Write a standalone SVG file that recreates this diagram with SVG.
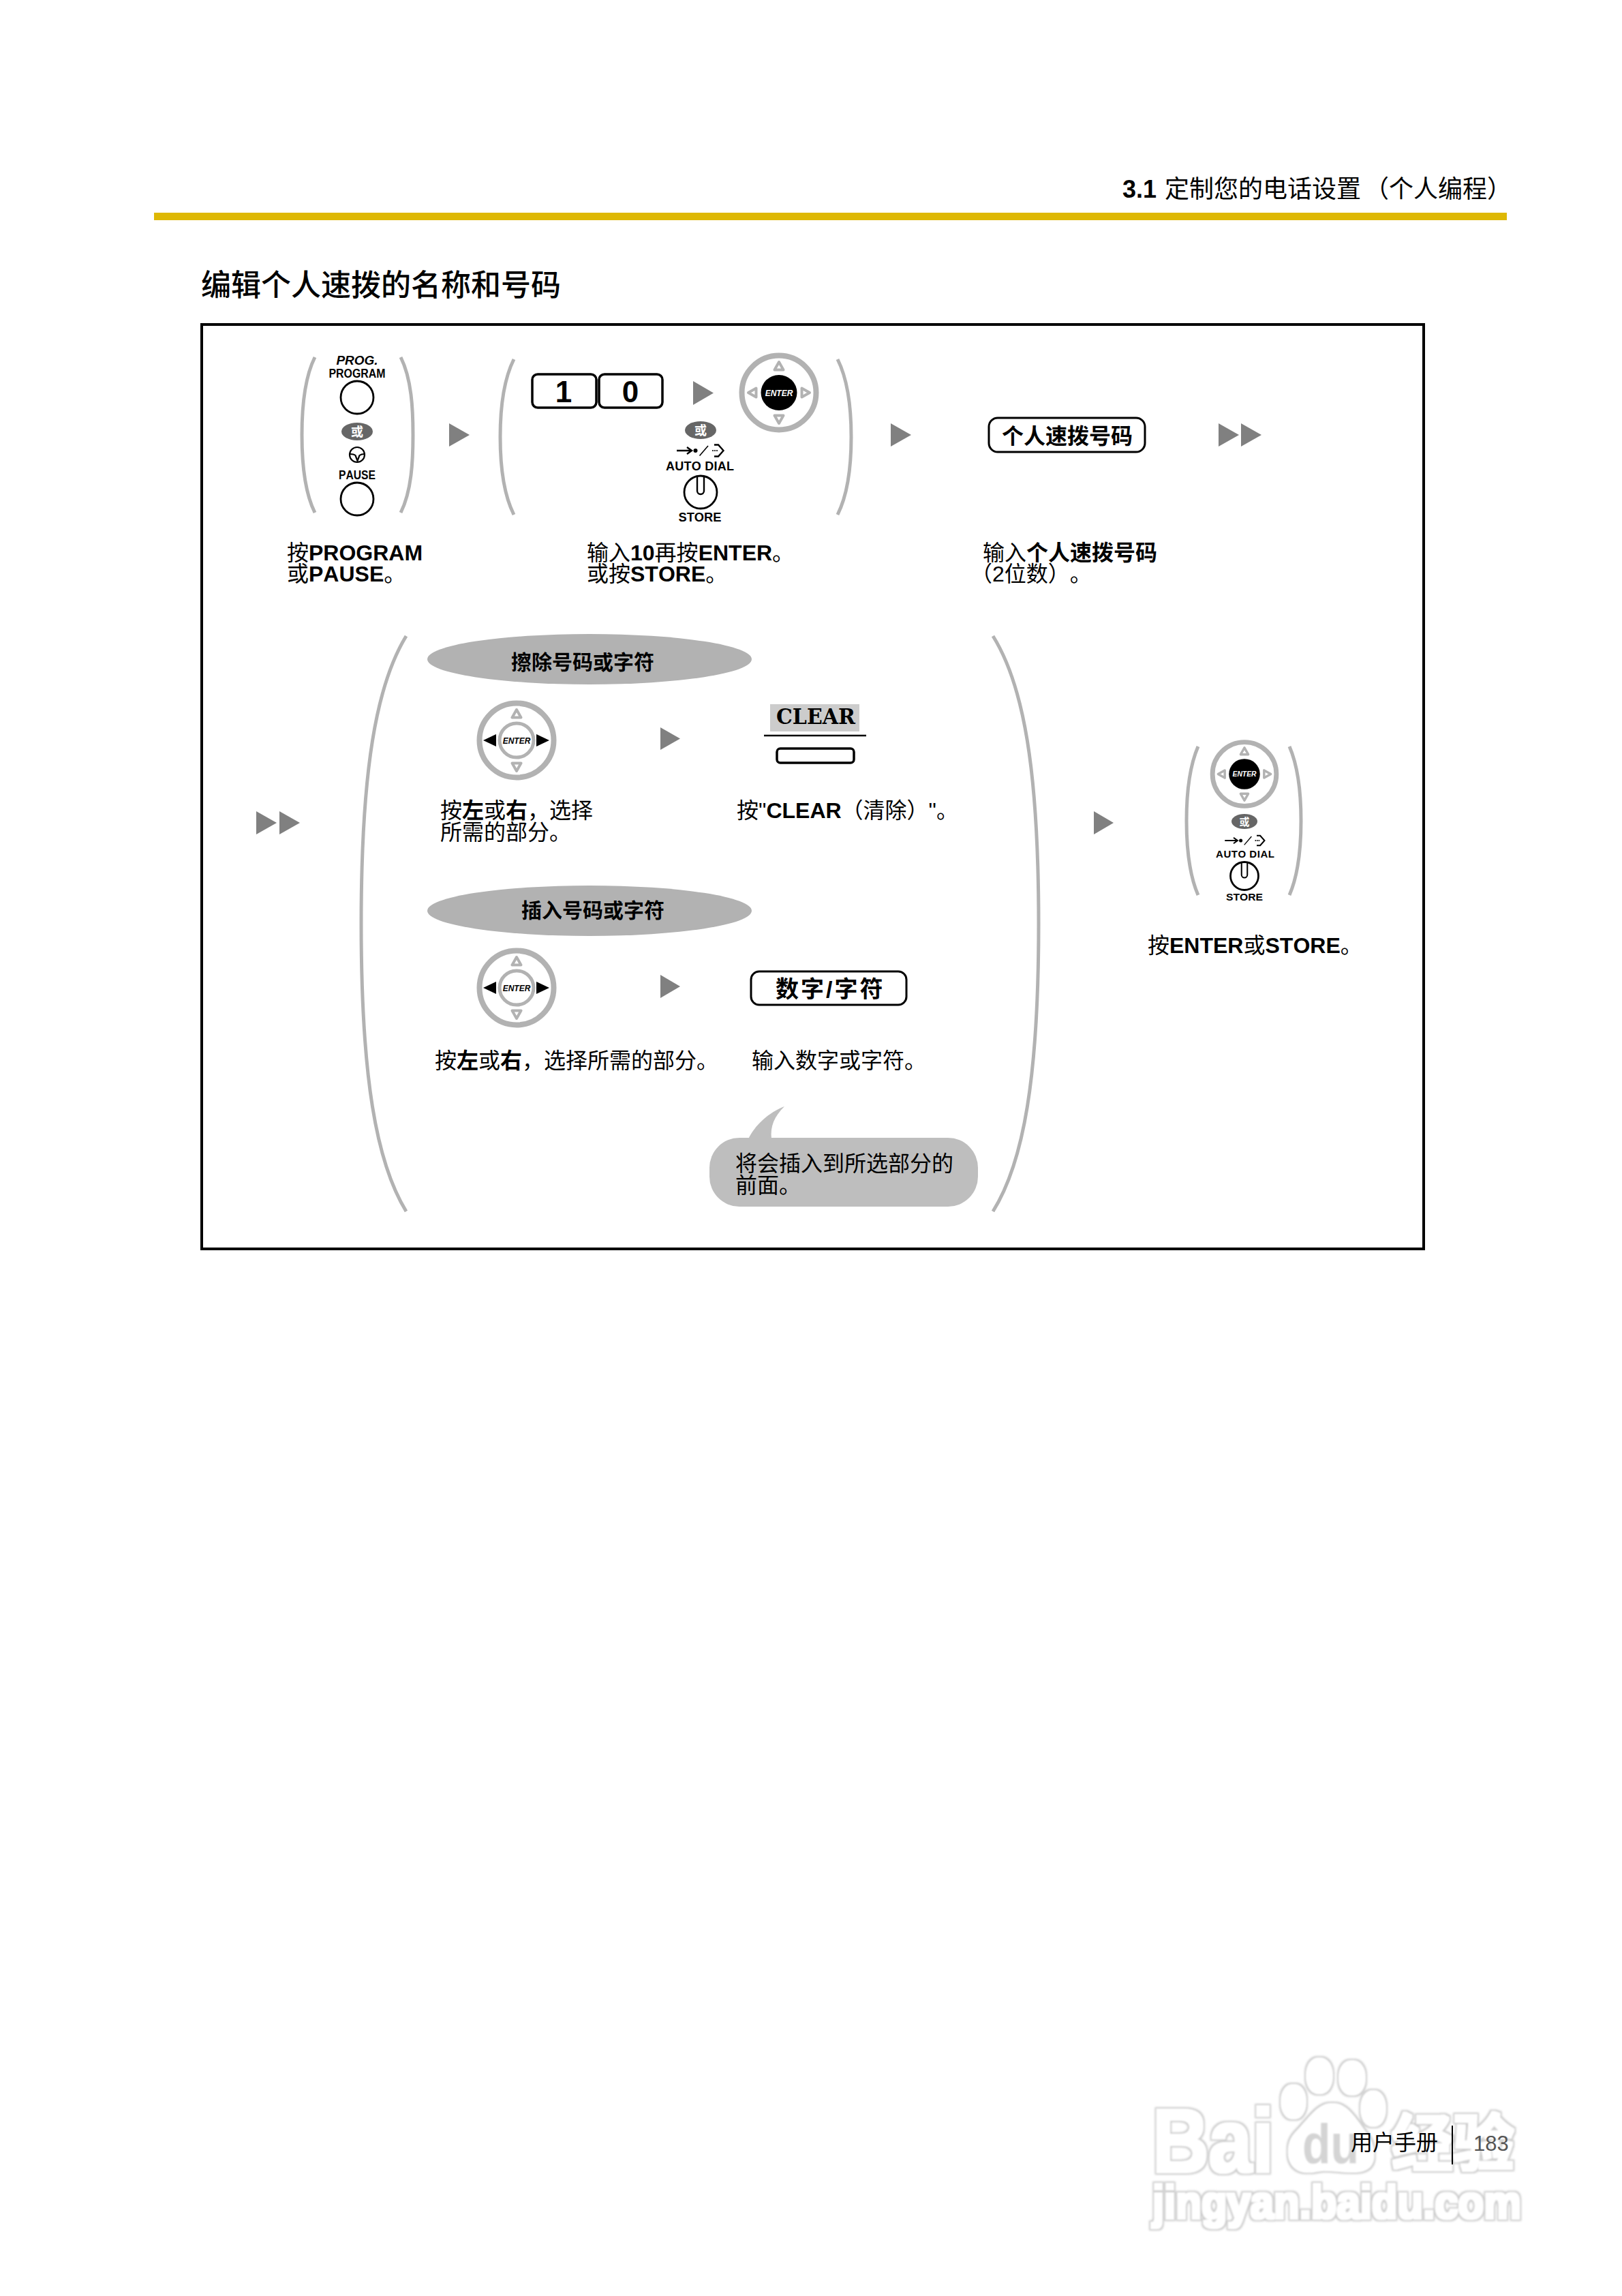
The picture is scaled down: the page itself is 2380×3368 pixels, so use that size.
<svg xmlns="http://www.w3.org/2000/svg" xmlns:xlink="http://www.w3.org/1999/xlink" width="2380" height="3368" viewBox="0 0 2380 3368">
<style>
text{font-family:"Liberation Sans","Noto Sans CJK SC",sans-serif;fill:#000;text-spacing-trim:space-all;font-kerning:none}
.t{font-size:32px}
.b{font-weight:700}
.c{text-anchor:middle}
.lbl{font-size:18px;font-weight:700;text-anchor:middle}
.lbs{font-size:15px;font-weight:700;text-anchor:middle}
.brk{fill:none;stroke:#b2b2b2;stroke-width:5}
.ring{fill:#fff;stroke:#b2b2b2;stroke-width:8}
.out{fill:#fff;stroke:#b2b2b2;stroke-width:4;stroke-linejoin:round}
.btn{fill:#fff;stroke:#000;stroke-width:2.8}
.key{fill:#fff;stroke:#000;stroke-width:3.5}
.line{fill:none;stroke:#000;stroke-width:2.4}
.arr{fill:#808080}
.or{fill:#666}
.ort{font-weight:700;text-anchor:middle}
text.ort{fill:#fff}
text.wt{fill:#fff}
.wm{fill:#fff;font-weight:700}
</style>
<defs>
<filter id="soft" filterUnits="userSpaceOnUse" x="1660" y="2990" width="600" height="300">
<feMorphology in="SourceAlpha" operator="dilate" radius="4" result="o"/>
<feGaussianBlur in="o" stdDeviation="1.5" result="ob"/>
<feFlood flood-color="#cdcdcd"/>
<feComposite in2="ob" operator="in" result="g"/>
<feMorphology in="SourceAlpha" operator="dilate" radius="1.5" result="i"/>
<feGaussianBlur in="i" stdDeviation="1" result="ib"/>
<feFlood flood-color="#ffffff"/>
<feComposite in2="ib" operator="in" result="w"/>
<feMerge><feMergeNode in="g"/><feMergeNode in="w"/></feMerge>
</filter>
<filter id="softer" filterUnits="userSpaceOnUse" x="1880" y="3080" width="150" height="120"><feGaussianBlur stdDeviation="1"/></filter>
<polygon id="nav-up" class="out" points="0,-45 -6.500,-33.500 6.500,-33.500"/>
<g id="wheel-black">
<circle class="ring" cx="0" cy="0" r="54.500"/>
<use xlink:href="#nav-up"/>
<use xlink:href="#nav-up" transform="rotate(90)"/>
<use xlink:href="#nav-up" transform="rotate(180)"/>
<use xlink:href="#nav-up" transform="rotate(270)"/>
<ellipse cx="0" cy="0" rx="26.500" ry="26" fill="#000"/>
<text x="0" y="4.500" class="c b wt" font-size="12" font-style="italic">ENTER</text>
</g>
<g id="wheel-gray">
<circle class="ring" cx="0" cy="0" r="54.500"/>
<use xlink:href="#nav-up"/>
<use xlink:href="#nav-up" transform="rotate(180)"/>
<polygon points="-49,0 -30,-9 -30,9" fill="#000"/>
<polygon points="48,0 29,-9 29,9" fill="#000"/>
<circle cx="0" cy="0" r="25" fill="#fff" stroke="#b2b2b2" stroke-width="5"/>
<text x="0" y="4.500" class="c" font-size="12" font-style="italic" font-weight="700">ENTER</text>
</g>
<g id="dial-icon">
<path class="line" d="M-35 0H-14M-20 -5L-13 0L-20 5"/>
<circle cx="-7.500" cy="0" r="3" fill="#000"/>
<path class="line" d="M-1.500 7.500L11 -7" style="stroke-width:1.6"/>
<circle cx="18" cy="0" r="1.100" fill="#000"/><circle cx="21" cy="0" r="1.100" fill="#000"/><circle cx="24" cy="0" r="1.100" fill="#000"/>
<path class="line" d="M20 -8.500H26L33.500 0L26 8.500H20"/>
</g>
<path id="store-mark" class="line" d="M-5 -23V-2A5 5 0 0 0 5 -2V-23"/>
</defs>

<g id="watermark">
<g filter="url(#soft)">
<text x="1691" y="3186" class="wm" font-size="132" textLength="178" lengthAdjust="spacingAndGlyphs">Bai</text>
<ellipse class="wm" cx="1898" cy="3083" rx="17" ry="24"/>
<ellipse class="wm" cx="1936" cy="3045" rx="18" ry="25"/>
<ellipse class="wm" cx="1984" cy="3048" rx="18" ry="24"/>
<ellipse class="wm" cx="2015" cy="3093" rx="17" ry="25"/>
<path class="wm" d="M1955 3087C1975 3087 1988 3110 2003 3130C2020 3152 2022 3185 1985 3185C1965 3185 1945 3180 1925 3185C1892 3189 1882 3152 1902 3130C1922 3110 1935 3087 1955 3087Z"/>
<text x="2042" y="3176" class="wm" font-size="90" textLength="180" lengthAdjust="spacingAndGlyphs">经验</text>
<text x="1691" y="3254" class="wm" font-size="68" textLength="541" lengthAdjust="spacingAndGlyphs">jingyan.baidu.com</text>
</g>
<text x="1911" y="3173" font-size="82" font-weight="700" textLength="83" lengthAdjust="spacingAndGlyphs" filter="url(#softer)" style="fill:#d4d4d4">du</text>
</g>

<g id="header">
<rect x="226" y="312" width="1985" height="11" fill="#deb805"/>
<text y="290" font-size="36"><tspan x="1647" class="b">3.1</tspan><tspan x="1709">定制您的电话设置</tspan><tspan x="2002">（个人编程）</tspan></text>
<text x="295" y="434" font-size="44" font-weight="500">编辑个人速拨的名称和号码</text>
</g>

<g id="frame"><rect x="296" y="476" width="1793" height="1356" fill="none" stroke="#000" stroke-width="4"/></g>

<g id="node-program">
<path class="brk" d="M462 524C446 556 443 600 443 638C443 676 446 720 462 752"/>
<path class="brk" d="M588 524C604 556 606 600 606 638C606 676 604 720 588 752"/>
<text x="524" y="535" class="c b" font-size="19" font-style="italic">PROG.</text>
<text x="524" y="554" class="lbl" textLength="83" lengthAdjust="spacingAndGlyphs">PROGRAM</text>
<circle class="btn" cx="524" cy="583" r="24"/>
<ellipse class="or" cx="524" cy="633" rx="23" ry="13"/>
<text x="524" y="640" class="ort" font-size="18">或</text>
<circle cx="524" cy="667" r="11" fill="none" stroke="#000" stroke-width="2.200"/>
<path d="M513.500 666Q519 666 521.500 668L524.500 676L527.500 668Q530 666 535 666" fill="none" stroke="#000" stroke-width="2.200"/>
<text x="524" y="703" class="lbl" textLength="54" lengthAdjust="spacingAndGlyphs">PAUSE</text>
<circle class="btn" cx="524" cy="732" r="24"/>
<text class="t" y="822"><tspan x="421">按</tspan><tspan class="b">PROGRAM</tspan></text>
<text class="t" y="853"><tspan x="421">或</tspan><tspan class="b">PAUSE</tspan>。</text>
</g>

<g id="node-ten-enter">
<path class="brk" d="M754 527C738 559 734 603 734 641C734 679 738 723 754 755"/>
<path class="brk" d="M1229 527C1245 559 1249 603 1249 641C1249 679 1245 723 1229 755"/>
<rect class="key" x="781" y="549" width="94" height="49" rx="8"/>
<rect class="key" x="879" y="549" width="93" height="49" rx="8"/>
<text x="827" y="590" class="c b" font-size="44">1</text>
<text x="925" y="590" class="c b" font-size="44">0</text>
<use xlink:href="#wheel-black" x="1143" y="576"/>
<ellipse class="or" cx="1028" cy="631" rx="23" ry="13"/>
<text x="1028" y="638" class="ort" font-size="18">或</text>
<use xlink:href="#dial-icon" x="1028" y="661"/>
<text x="1027" y="690" class="lbl" textLength="100" lengthAdjust="spacing">AUTO DIAL</text>
<circle class="btn" cx="1028" cy="722" r="24"/>
<use xlink:href="#store-mark" x="1028" y="722"/>
<text x="1027" y="765" class="lbl" textLength="63" lengthAdjust="spacingAndGlyphs">STORE</text>
<text class="t" y="822"><tspan x="861">输入</tspan><tspan class="b">10</tspan>再按<tspan class="b">ENTER</tspan>。</text>
<text class="t" y="853"><tspan x="861">或按</tspan><tspan class="b">STORE</tspan>。</text>
</g>

<g id="node-speed-dial">
<rect class="key" x="1451" y="613" width="229" height="50" rx="13" style="stroke-width:3"/>
<text x="1470" y="651" class="t b">个人速拨号码</text>
<text class="t" y="822"><tspan x="1442">输入</tspan><tspan class="b">个人速拨号码</tspan></text>
<text x="1424" y="853" class="t">（2位数）。</text>
</g>

<g id="node-options">
<path class="brk" d="M596 933C552 1005 530 1130 530 1355C530 1580 552 1705 596 1777"/>
<path class="brk" d="M1457 933C1502 1005 1524 1130 1524 1355C1524 1580 1502 1705 1457 1777"/>
</g>

<g id="node-erase">
<ellipse cx="865" cy="967" rx="238" ry="37" fill="#b2b2b2"/>
<text x="750" y="982" font-size="30" class="b">擦除号码或字符</text>
<use xlink:href="#wheel-gray" x="758" y="1086"/>
<text class="t" y="1200"><tspan x="646">按</tspan><tspan class="b">左</tspan>或<tspan class="b">右</tspan>，选择</text>
<text x="646" y="1232" class="t">所需的部分。</text>
<rect x="1130" y="1033" width="131" height="40" fill="#cccccc"/>
<text x="1139" y="1062" font-size="31" font-weight="700" style="font-family:'DejaVu Serif',serif" textLength="116" lengthAdjust="spacingAndGlyphs">CLEAR</text>
<path d="M1121 1079H1271" stroke="#000" stroke-width="2.500"/>
<rect class="key" x="1140" y="1098" width="113" height="21" rx="5"/>
<text class="t" y="1200"><tspan x="1081">按"</tspan><tspan class="b">CLEAR</tspan>（清除）"。</text>
</g>

<g id="node-insert">
<ellipse cx="865" cy="1336" rx="238" ry="37" fill="#b2b2b2"/>
<text x="765" y="1346" font-size="30" class="b">插入号码或字符</text>
<use xlink:href="#wheel-gray" x="758" y="1449"/>
<text class="t" y="1567"><tspan x="638">按</tspan><tspan class="b">左</tspan>或<tspan class="b">右</tspan>，选择所需的部分。</text>
<rect class="key" x="1102" y="1425" width="228" height="49" rx="12" style="stroke-width:3"/>
<text x="1138" y="1463" font-size="34" class="b" letter-spacing="3">数字/字符</text>
<text x="1103" y="1567" class="t">输入数字或字符。</text>
</g>

<g id="node-note">
<path d="M1098 1671C1108 1650 1128 1632 1151 1623C1136 1638 1130 1652 1132 1671Z" fill="#bebebe"/>
<rect x="1041" y="1669" width="394" height="101" rx="44" fill="#bebebe"/>
<text x="1079" y="1718" class="t">将会插入到所选部分的</text>
<text x="1079" y="1750" class="t">前面。</text>
</g>

<g id="node-finish">
<path class="brk" d="M1758 1095C1745 1125 1741 1165 1741 1204C1741 1243 1745 1283 1758 1313"/>
<path class="brk" d="M1892 1095C1905 1125 1909 1165 1909 1204C1909 1243 1905 1283 1892 1313"/>
<use xlink:href="#wheel-black" transform="translate(1826 1135.500) scale(.86)"/>
<ellipse class="or" cx="1826" cy="1205" rx="19" ry="11"/>
<text x="1826" y="1211" class="ort" font-size="15">或</text>
<use xlink:href="#dial-icon" transform="translate(1827 1233) scale(.85)"/>
<text x="1827" y="1258" class="lbs" textLength="86" lengthAdjust="spacing">AUTO DIAL</text>
<circle class="btn" cx="1826" cy="1285" r="20.500"/>
<use xlink:href="#store-mark" transform="translate(1826 1285) scale(.85)"/>
<text x="1826" y="1321" class="lbs" textLength="54" lengthAdjust="spacingAndGlyphs">STORE</text>
<text class="t" y="1398"><tspan x="1684">按</tspan><tspan class="b">ENTER</tspan>或<tspan class="b">STORE</tspan>。</text>
</g>

<g id="connectors">
<polygon class="arr" points="659,621 689,638 659,655"/>
<polygon class="arr" points="1017,559 1047,576.500 1017,594"/>
<polygon class="arr" points="1307,621 1337,638 1307,655"/>
<polygon class="arr" points="1788,621 1818,638 1788,655"/>
<polygon class="arr" points="1821,621 1851,638 1821,655"/>
<polygon class="arr" points="376,1190 406,1207 376,1224"/>
<polygon class="arr" points="410,1190 440,1207 410,1224"/>
<polygon class="arr" points="969,1067 998,1083.500 969,1100"/>
<polygon class="arr" points="969,1430 998,1447 969,1464"/>
<polygon class="arr" points="1605,1190 1634,1207 1605,1224"/>
</g>

<g id="footer">
<text x="1982" y="3154" class="t">用户手册</text>
<path d="M2131 3118V3175" stroke="#000" stroke-width="2"/>
<text x="2162" y="3155" font-size="31" style="fill:#555">183</text>
</g>
</svg>
